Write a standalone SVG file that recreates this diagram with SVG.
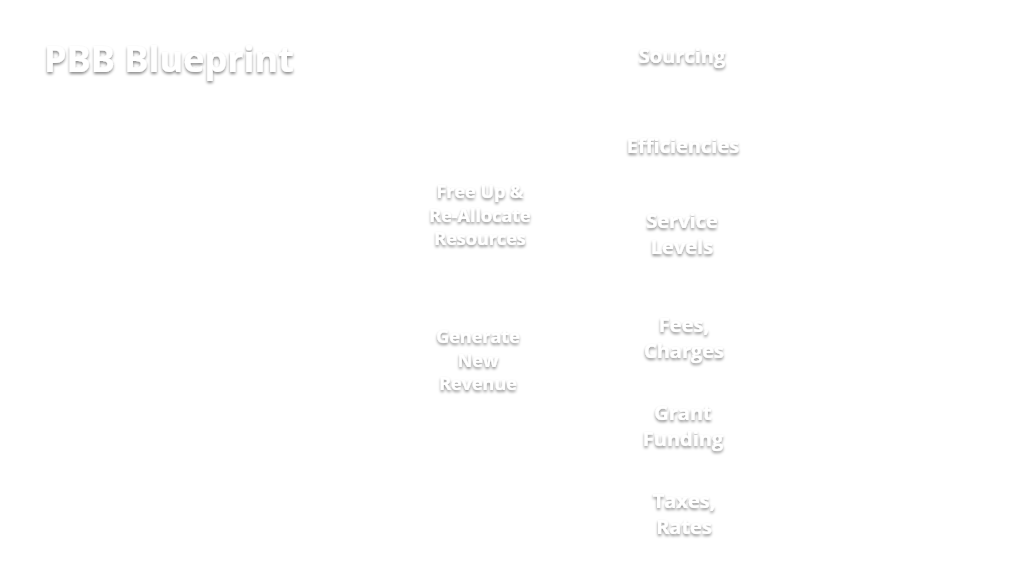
<svg xmlns="http://www.w3.org/2000/svg" width="1024" height="576" viewBox="0 0 1024 576">
<defs>
<filter id="sh" x="-20%" y="-20%" width="140%" height="160%"><feDropShadow dx="0" dy="2" stdDeviation="1.5" flood-color="#000" flood-opacity="0.45"/></filter>
</defs>
<style>
text{fill:#fff;font-family:"Open Sans","Liberation Sans",sans-serif;font-weight:bold;text-anchor:middle;filter:url(#sh)}
.l{font-size:20px}
.m{font-size:18px}
</style>
<rect width="1024" height="576" fill="#fff"/>
<g id="title"><text x="44" y="72" style="text-anchor:start;font-size:36px">PBB Blueprint</text></g>
<g id="sourcing"><text class="l" x="682" y="63">Sourcing</text></g>
<g id="efficiencies"><text class="l" x="683" y="153">Efficiencies</text></g>
<g id="freeup"><text class="m" x="480" y="198">Free Up &amp;</text><text class="m" x="480" y="222">Re-Allocate</text><text class="m" x="480" y="245">Resources</text></g>
<g id="service"><text class="l" x="682" y="228">Service</text><text class="l" x="682" y="254">Levels</text></g>
<g id="generate"><text class="m" x="478" y="343">Generate</text><text class="m" x="478" y="367">New</text><text class="m" x="478" y="390">Revenue</text></g>
<g id="fees"><text class="l" x="684" y="332">Fees,</text><text class="l" x="684" y="358">Charges</text></g>
<g id="grant"><text class="l" x="683" y="420">Grant</text><text class="l" x="683" y="446">Funding</text></g>
<g id="taxes"><text class="l" x="684" y="508">Taxes,</text><text class="l" x="684" y="534">Rates</text></g>
<g id="connectors"/>
</svg>
